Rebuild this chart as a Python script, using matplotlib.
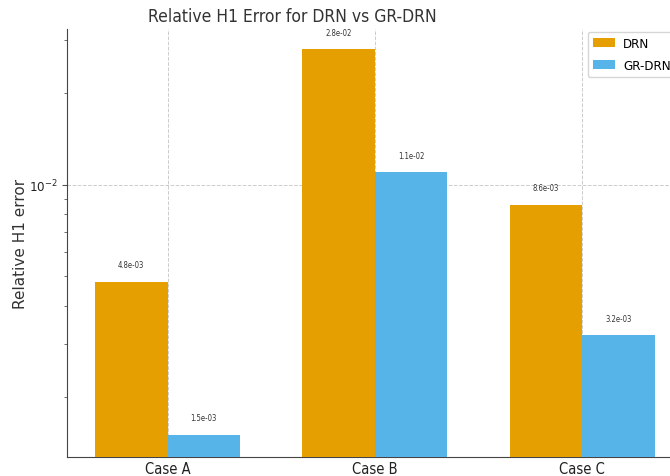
import matplotlib
matplotlib.use("Agg")
import matplotlib.pyplot as plt
import numpy as np

plt.rcParams["font.family"] = ["DejaVu Sans"]
plt.rcParams["font.stretch"] = "condensed"

# datos
casos = ["Case A", "Case B", "Case C"]
drn = [4.8e-3, 2.8e-2, 8.6e-3]
gr_drn = [1.5e-3, 1.1e-2, 3.2e-3]

color_drn = "#E69F00"
color_gr = "#56B4E9"

fig = plt.figure(figsize=(6.7, 4.77), dpi=100)
ax = fig.add_axes([0.1, 0.04, 0.919, 0.897])

x = np.arange(len(casos))
ancho = 0.35

b1 = ax.bar(x - ancho / 2, drn, ancho, color=color_drn, label="DRN", zorder=3)
b2 = ax.bar(x + ancho / 2, gr_drn, ancho, color=color_gr, label="GR-DRN", zorder=3)

ax.set_yscale("log")
ax.set_ylim(1.27e-3, 3.26e-2)
ax.set_xlim(-0.485, 2.485)

# etiquetas de valor
for barras in (b1, b2):
    for b in barras:
        v = b.get_height()
        ax.text(b.get_x() + b.get_width() / 2, v * 1.1, f"{v:.1e}",
                ha="center", va="bottom", fontsize=5.5, color="#333333")

ax.set_xticks(x)
ax.set_xticklabels(casos, fontsize=10.5, color="#222222")
ax.tick_params(axis="x", length=0, pad=3)
ax.tick_params(axis="y", which="major", labelsize=9.5, color="#555555", labelcolor="#222222")
ax.tick_params(axis="y", which="minor", color="#555555")

ax.set_ylabel("Relative H1 error", fontsize=11, fontstretch="normal", color="#333333")
ax.yaxis.set_label_coords(-0.063, 0.5)

ax.grid(True, which="major", linestyle="--", color="#cccccc", linewidth=0.7, zorder=0)

ax.spines["top"].set_visible(False)
ax.spines["right"].set_visible(False)
ax.spines["left"].set_color("#444444")
ax.spines["bottom"].set_color("#444444")

ax.legend(loc="upper right", fontsize=9.5, frameon=True, edgecolor="#cccccc",
          handlelength=1.7, handletextpad=0.6, labelspacing=0.7,
          bbox_to_anchor=(1.0, 1.0093))

fig.text(292 / 670, 1 - 17 / 477, "Relative H1 Error for DRN vs GR-DRN",
         ha="center", va="center", fontsize=12.5, color="#333333")

fig.savefig("out.png", dpi=100)
